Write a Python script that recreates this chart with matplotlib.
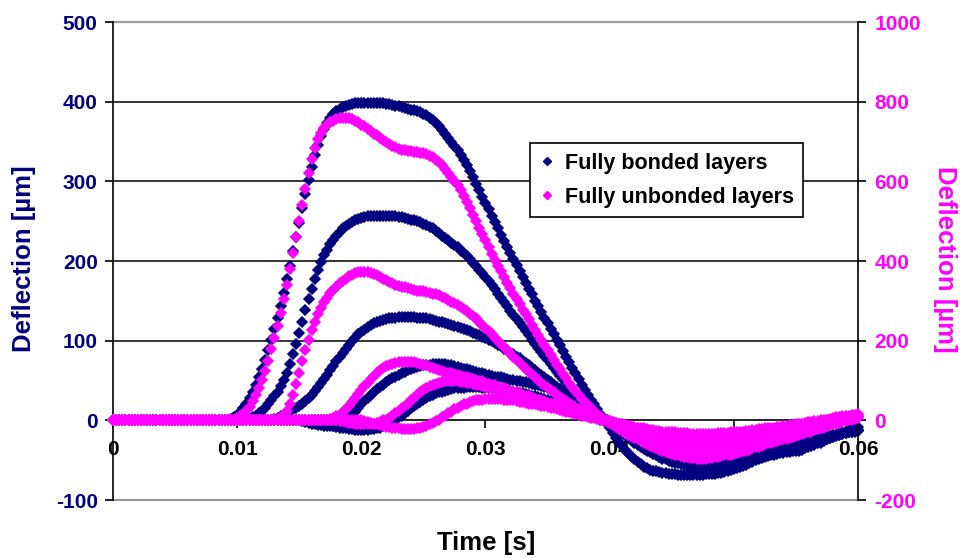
import matplotlib.pyplot as plt
import numpy as np
from matplotlib.lines import Line2D

plt.rcParams['font.family'] = ['Liberation Sans', 'DejaVu Sans']
plt.rcParams['font.weight'] = 'bold'
plt.rcParams['axes.unicode_minus'] = False

# time axis: one sample every 0.25 ms, 0 .. 0.06 s
t = np.linspace(0, 0.06, 241)

# Fully bonded layers, deflection in um (left axis), 5 depths, 20 samples per row (5 ms)
bonded_1 = [
    0, 0, 0, 0, 0, 0, 0, 0, 0, 0, 0, 0, 0, 0, 0, 0, 0, 0, 0, 0,
    0, 0, 0, 0, 0, 0, 0, 0, 0, 0, 0, 0, 0, 0, 0, 0, 0, 1, 2, 4,
    6, 10, 15, 21, 28, 36, 45, 55, 65, 76, 88, 101, 115, 129, 144, 160, 177, 194, 212, 230,
    248, 266, 284, 302, 318, 333, 346, 357, 366, 373, 379, 384, 388, 391, 393, 395, 396, 397, 398, 398,
    399, 399, 399, 399, 399, 398, 398, 398, 397, 397, 396, 395, 394, 393, 392, 391, 390, 389, 388, 387,
    385, 383, 380, 377, 373, 369, 365, 360, 355, 350, 345, 339, 333, 327, 320, 313, 305, 297, 289, 281,
    273, 265, 257, 249, 241, 233, 225, 218, 210, 203, 195, 188, 180, 173, 165, 158, 150, 143, 136, 129,
    122, 115, 108, 101, 94, 87, 80, 73, 66, 59, 52, 45, 38, 32, 26, 20, 14, 8, 2, -4,
    -10, -16, -22, -27, -32, -37, -41, -45, -49, -52, -55, -58, -60, -62, -63, -64, -65, -66, -66, -67,
    -67, -67, -68, -68, -68, -68, -68, -68, -68, -68, -68, -67, -67, -67, -67, -66, -66, -65, -64, -62,
    -61, -60, -58, -57, -56, -54, -52, -50, -49, -47, -46, -45, -44, -43, -42, -41, -41, -40, -40, -39,
    -39, -38, -37, -35, -34, -32, -31, -29, -28, -26, -24, -22, -21, -19, -17, -15, -14, -12, -11, -9,
    -8]
bonded_2 = [
    0, 0, 0, 0, 0, 0, 0, 0, 0, 0, 0, 0, 0, 0, 0, 0, 0, 0, 0, 0,
    0, 0, 0, 0, 0, 0, 0, 0, 0, 0, 0, 0, 0, 0, 0, 0, 0, 0, 0, 0,
    0, 0, 0, 1, 2, 4, 6, 9, 12, 16, 20, 25, 30, 36, 43, 51, 60, 71, 83, 96,
    110, 124, 138, 152, 165, 177, 189, 199, 207, 214, 221, 227, 232, 237, 241, 244, 247, 249, 251, 253,
    254, 255, 256, 256, 257, 257, 257, 257, 257, 257, 256, 256, 255, 255, 254, 253, 252, 251, 250, 249,
    247, 245, 243, 241, 238, 235, 232, 229, 226, 223, 220, 217, 213, 210, 206, 202, 198, 194, 189, 185,
    180, 175, 170, 165, 159, 154, 148, 143, 137, 132, 127, 122, 117, 112, 107, 101, 96, 91, 86, 81,
    76, 71, 66, 61, 56, 52, 47, 43, 38, 34, 30, 26, 22, 18, 15, 11, 8, 5, 2, -1,
    -4, -7, -10, -13, -16, -19, -22, -25, -28, -31, -33, -36, -38, -40, -42, -44, -46, -48, -49, -51,
    -52, -53, -54, -55, -56, -56, -57, -57, -58, -58, -58, -58, -58, -58, -57, -57, -56, -55, -54, -53,
    -52, -51, -50, -49, -48, -47, -46, -45, -44, -43, -42, -42, -41, -40, -40, -39, -38, -37, -37, -36,
    -35, -34, -33, -32, -31, -30, -28, -27, -26, -25, -23, -22, -21, -20, -18, -17, -16, -15, -14, -13,
    -12]
bonded_3 = [
    0, 0, 0, 0, 0, 0, 0, 0, 0, 0, 0, 0, 0, 0, 0, 0, 0, 0, 0, 0,
    0, 0, 0, 0, 0, 0, 0, 0, 0, 0, 0, 0, 0, 0, 0, 0, 0, 0, 0, 0,
    0, 0, 0, 0, 0, 0, 0, 0, 0, 0, 0, 1, 2, 3, 5, 7, 9, 11, 14, 16,
    18, 21, 24, 28, 32, 37, 42, 47, 52, 57, 63, 68, 74, 79, 85, 90, 95, 100, 104, 108,
    111, 114, 117, 120, 122, 124, 125, 126, 127, 128, 129, 129, 130, 130, 130, 130, 130, 130, 129, 129,
    128, 128, 127, 126, 125, 124, 123, 122, 121, 120, 119, 117, 116, 115, 113, 112, 110, 108, 107, 105,
    103, 101, 99, 97, 95, 93, 90, 88, 85, 83, 80, 78, 75, 72, 69, 66, 63, 60, 57, 54,
    51, 48, 45, 42, 39, 36, 33, 30, 27, 25, 22, 20, 17, 15, 12, 10, 7, 5, 3, 0,
    -2, -4, -7, -9, -11, -13, -16, -18, -20, -22, -24, -26, -28, -30, -32, -33, -35, -37, -38, -40,
    -41, -42, -44, -45, -46, -47, -47, -48, -49, -49, -50, -50, -51, -51, -51, -50, -50, -50, -49, -49,
    -48, -47, -47, -46, -45, -44, -43, -42, -41, -40, -40, -39, -38, -37, -37, -36, -35, -34, -34, -33,
    -32, -31, -30, -29, -28, -27, -26, -25, -24, -23, -22, -21, -20, -19, -18, -17, -16, -15, -14, -14,
    -13]
bonded_4 = [
    0, 0, 0, 0, 0, 0, 0, 0, 0, 0, 0, 0, 0, 0, 0, 0, 0, 0, 0, 0,
    0, 0, 0, 0, 0, 0, 0, 0, 0, 0, 0, 0, 0, 0, 0, 0, 0, 0, 0, 0,
    0, 0, 0, 0, 0, 0, 0, 0, 0, 0, 0, 0, 0, 0, 0, 0, 0, 0, 0, 0,
    0, -1, -2, -3, -4, -5, -6, -6, -7, -7, -7, -7, -6, -5, -3, 0, 3, 7, 11, 15,
    20, 24, 28, 32, 35, 39, 42, 45, 48, 51, 53, 55, 57, 59, 61, 63, 64, 66, 67, 68,
    69, 70, 70, 71, 71, 71, 71, 71, 70, 69, 68, 67, 66, 65, 64, 63, 62, 61, 60, 59,
    58, 57, 56, 55, 54, 54, 53, 52, 51, 51, 50, 49, 48, 48, 47, 46, 45, 44, 43, 42,
    40, 39, 37, 36, 34, 32, 30, 28, 26, 24, 21, 19, 17, 14, 12, 9, 7, 5, 3, 0,
    -2, -4, -6, -8, -10, -12, -14, -16, -18, -20, -22, -24, -26, -28, -29, -31, -33, -34, -36, -37,
    -39, -40, -41, -42, -43, -44, -44, -45, -46, -46, -46, -47, -47, -47, -47, -47, -47, -46, -46, -45,
    -45, -44, -43, -43, -42, -41, -40, -40, -39, -38, -37, -37, -36, -35, -34, -34, -33, -32, -31, -31,
    -30, -29, -28, -28, -27, -26, -25, -24, -23, -22, -21, -20, -19, -18, -17, -16, -15, -14, -13, -13,
    -12]
bonded_5 = [
    0, 0, 0, 0, 0, 0, 0, 0, 0, 0, 0, 0, 0, 0, 0, 0, 0, 0, 0, 0,
    0, 0, 0, 0, 0, 0, 0, 0, 0, 0, 0, 0, 0, 0, 0, 0, 0, 0, 0, 0,
    0, 0, 0, 0, 0, 0, 0, 0, 0, 0, 0, 0, 0, 0, 0, 0, 0, 0, 0, 0,
    0, 0, 0, 0, 0, 0, 0, 0, -3, -4, -6, -7, -8, -9, -10, -10, -11, -11, -12, -12,
    -12, -12, -12, -11, -11, -10, -9, -7, -5, -3, -1, 1, 4, 6, 9, 12, 15, 18, 21, 23,
    26, 28, 30, 32, 34, 35, 36, 37, 38, 39, 40, 40, 41, 41, 42, 42, 42, 42, 42, 41,
    41, 41, 40, 40, 39, 39, 38, 37, 37, 36, 35, 34, 34, 33, 32, 31, 30, 29, 28, 27,
    26, 24, 23, 22, 21, 19, 18, 16, 15, 13, 12, 10, 9, 7, 6, 4, 3, 1, 0, -2,
    -3, -5, -6, -8, -9, -11, -13, -14, -16, -18, -19, -21, -23, -24, -26, -27, -29, -30, -31, -33,
    -34, -35, -36, -37, -38, -39, -39, -40, -41, -41, -41, -42, -42, -42, -42, -42, -42, -42, -41, -41,
    -41, -40, -40, -39, -39, -38, -38, -37, -37, -36, -35, -35, -34, -33, -33, -32, -31, -30, -30, -29,
    -28, -27, -27, -26, -25, -24, -24, -23, -22, -21, -21, -20, -19, -18, -17, -16, -15, -14, -13, -13,
    -12]

# Fully unbonded layers, deflection in um (right axis)
unbonded_1 = [
    0, 0, 0, 0, 0, 0, 0, 0, 0, 0, 0, 0, 0, 0, 0, 0, 0, 0, 0, 0,
    0, 0, 0, 0, 0, 0, 0, 0, 0, 0, 0, 0, 0, 0, 0, 0, 0, 0, 0, 2,
    6, 10, 16, 24, 34, 48, 64, 82, 102, 124, 150, 178, 208, 238, 270, 304, 340, 380, 420, 460,
    500, 540, 580, 620, 656, 684, 706, 722, 734, 742, 748, 752, 756, 758, 760, 760, 758, 756, 752, 748,
    742, 738, 732, 726, 720, 716, 710, 704, 700, 694, 690, 686, 682, 680, 678, 676, 676, 674, 674, 672,
    670, 668, 664, 660, 654, 648, 640, 632, 622, 612, 602, 590, 578, 564, 548, 532, 516, 500, 484, 468,
    452, 436, 418, 402, 388, 374, 360, 346, 332, 318, 304, 292, 278, 266, 254, 240, 228, 214, 202, 188,
    176, 164, 152, 140, 128, 116, 106, 94, 84, 74, 64, 54, 46, 38, 30, 22, 16, 10, 4, 0,
    -6, -12, -16, -22, -26, -32, -36, -40, -44, -48, -52, -56, -60, -64, -66, -70, -74, -76, -80, -82,
    -84, -86, -88, -90, -92, -92, -94, -94, -96, -96, -96, -96, -94, -94, -92, -92, -90, -88, -88, -86,
    -84, -82, -80, -78, -76, -74, -70, -68, -66, -64, -60, -58, -56, -54, -52, -50, -48, -46, -44, -42,
    -40, -38, -34, -32, -30, -28, -24, -22, -20, -18, -14, -12, -10, -8, -6, -4, -2, 0, 2, 4,
    6]
unbonded_2 = [
    0, 0, 0, 0, 0, 0, 0, 0, 0, 0, 0, 0, 0, 0, 0, 0, 0, 0, 0, 0,
    0, 0, 0, 0, 0, 0, 0, 0, 0, 0, 0, 0, 0, 0, 0, 0, 0, 0, 0, 0,
    0, 0, 0, 0, 0, 0, 0, 0, 0, 0, 0, 2, 2, 4, 8, 14, 24, 40, 64, 92,
    120, 148, 176, 202, 226, 248, 266, 282, 296, 308, 320, 328, 336, 344, 350, 356, 362, 366, 370, 372,
    372, 372, 372, 370, 368, 364, 360, 356, 352, 348, 344, 340, 338, 336, 334, 332, 330, 328, 326, 326,
    324, 322, 320, 318, 316, 314, 310, 306, 302, 298, 294, 290, 284, 280, 274, 268, 262, 256, 248, 240,
    232, 224, 216, 208, 200, 192, 184, 176, 168, 160, 152, 144, 136, 130, 122, 116, 108, 102, 94, 88,
    82, 76, 70, 64, 58, 54, 48, 44, 38, 34, 28, 24, 20, 16, 12, 10, 6, 4, 0, -4,
    -6, -10, -14, -16, -20, -24, -28, -30, -34, -38, -40, -44, -46, -48, -52, -54, -56, -58, -62, -64,
    -66, -68, -68, -70, -72, -74, -74, -76, -76, -76, -76, -76, -76, -76, -74, -74, -72, -70, -70, -68,
    -66, -64, -62, -60, -58, -56, -54, -52, -50, -48, -46, -44, -42, -40, -38, -36, -34, -32, -30, -28,
    -26, -24, -22, -20, -18, -16, -14, -12, -10, -8, -6, -6, -4, -2, 0, 0, 2, 4, 6, 6,
    8]
unbonded_3 = [
    0, 0, 0, 0, 0, 0, 0, 0, 0, 0, 0, 0, 0, 0, 0, 0, 0, 0, 0, 0,
    0, 0, 0, 0, 0, 0, 0, 0, 0, 0, 0, 0, 0, 0, 0, 0, 0, 0, 0, 0,
    0, 0, 0, 0, 0, 0, 0, 0, 0, 0, 0, 0, 0, 0, 0, 0, 0, 0, 0, 0,
    0, 0, 0, 0, 0, 0, 0, 0, 0, 2, 4, 6, 10, 14, 20, 28, 36, 46, 56, 66,
    76, 86, 94, 104, 112, 120, 126, 132, 136, 140, 142, 144, 146, 146, 146, 146, 146, 146, 144, 142,
    140, 138, 134, 132, 128, 126, 124, 122, 120, 118, 116, 114, 112, 110, 108, 106, 104, 102, 100, 98,
    94, 92, 90, 88, 84, 82, 80, 78, 74, 72, 70, 68, 64, 62, 60, 58, 54, 52, 50, 48,
    44, 42, 40, 38, 34, 32, 30, 28, 24, 22, 20, 18, 14, 12, 10, 8, 6, 4, 2, 0,
    -2, -4, -8, -10, -12, -14, -18, -20, -22, -24, -28, -30, -32, -34, -36, -38, -40, -42, -44, -46,
    -48, -50, -50, -52, -54, -54, -56, -56, -58, -58, -58, -60, -60, -60, -58, -58, -58, -56, -56, -54,
    -54, -52, -50, -50, -48, -46, -44, -44, -42, -40, -38, -36, -34, -32, -30, -30, -28, -26, -24, -22,
    -20, -18, -16, -16, -14, -12, -10, -8, -8, -6, -4, -4, -2, 0, 0, 2, 4, 6, 6, 8,
    10]
unbonded_4 = [
    0, 0, 0, 0, 0, 0, 0, 0, 0, 0, 0, 0, 0, 0, 0, 0, 0, 0, 0, 0,
    0, 0, 0, 0, 0, 0, 0, 0, 0, 0, 0, 0, 0, 0, 0, 0, 0, 0, 0, 0,
    0, 0, 0, 0, 0, 0, 0, 0, 0, 0, 0, 0, 0, 0, 0, 0, 0, 0, 0, 0,
    0, 0, 0, 0, 0, 0, 0, 0, 0, 0, 0, 0, 0, -2, -2, -4, -6, -6, -8, -8,
    -10, -10, -10, -10, -8, -6, -4, 0, 2, 6, 12, 18, 24, 30, 36, 42, 50, 56, 64, 70,
    76, 80, 86, 90, 92, 94, 96, 98, 98, 98, 98, 98, 96, 96, 94, 94, 92, 90, 88, 86,
    84, 82, 80, 78, 76, 74, 72, 70, 68, 66, 64, 62, 60, 58, 56, 54, 52, 50, 48, 46,
    44, 42, 40, 36, 34, 32, 30, 26, 24, 22, 20, 16, 14, 12, 10, 8, 6, 4, 2, 0,
    -2, -4, -6, -8, -10, -12, -14, -16, -18, -20, -22, -24, -26, -28, -28, -30, -32, -34, -34, -36,
    -38, -38, -40, -40, -42, -42, -42, -44, -44, -44, -44, -44, -44, -44, -44, -42, -42, -42, -40, -40,
    -40, -38, -38, -36, -36, -34, -32, -32, -30, -28, -28, -26, -24, -22, -22, -20, -20, -18, -16, -16,
    -14, -12, -10, -10, -8, -6, -6, -4, -4, -2, 0, 0, 2, 4, 4, 6, 8, 8, 10, 10,
    12]
unbonded_5 = [
    0, 0, 0, 0, 0, 0, 0, 0, 0, 0, 0, 0, 0, 0, 0, 0, 0, 0, 0, 0,
    0, 0, 0, 0, 0, 0, 0, 0, 0, 0, 0, 0, 0, 0, 0, 0, 0, 0, 0, 0,
    0, 0, 0, 0, 0, 0, 0, 0, 0, 0, 0, 0, 0, 0, 0, 0, 0, 0, 0, 0,
    0, 0, 0, 0, 0, 0, 0, 0, 0, 0, 0, 0, 0, 0, 0, 0, 0, 0, 0, 0,
    0, -2, -4, -6, -8, -10, -12, -14, -16, -16, -18, -20, -20, -22, -22, -22, -22, -22, -20, -18,
    -16, -14, -10, -6, -2, 2, 8, 12, 18, 22, 28, 32, 36, 40, 42, 46, 48, 50, 52, 52,
    54, 54, 54, 54, 54, 54, 52, 52, 50, 50, 48, 46, 46, 44, 42, 42, 40, 38, 36, 36,
    34, 32, 30, 28, 26, 24, 22, 20, 18, 16, 14, 12, 10, 8, 6, 6, 4, 2, 0, -2,
    -4, -6, -6, -8, -10, -12, -14, -14, -16, -18, -20, -20, -22, -24, -24, -26, -26, -28, -28, -30,
    -30, -30, -32, -32, -32, -32, -34, -34, -34, -34, -34, -34, -34, -34, -34, -32, -32, -32, -32, -30,
    -30, -30, -28, -28, -26, -26, -24, -24, -22, -22, -20, -20, -18, -18, -16, -16, -14, -14, -12, -12,
    -10, -8, -8, -6, -4, -4, -2, -2, 0, 2, 2, 4, 6, 8, 8, 10, 12, 12, 14, 14,
    16]

bonded = [bonded_1, bonded_2, bonded_3, bonded_4, bonded_5]
unbonded = [unbonded_1, unbonded_2, unbonded_3, unbonded_4, unbonded_5]

x_ticks = [0, 0.01, 0.02, 0.03, 0.04, 0.05, 0.06]
x_labels = ['0', '0.01', '0.02', '0.03', '0.04', '0.05', '0.06']
left_ticks = [-100, 0, 100, 200, 300, 400, 500]
right_ticks = [-200, 0, 200, 400, 600, 800, 1000]

navy = '#000080'
pink = '#FF00FF'

fig = plt.figure(figsize=(9.6, 5.58), dpi=100)
ax = fig.add_axes([0.1177, 0.1039, 0.7760, 0.8566])
ax2 = ax.twinx()

ax.set_xlim(0, 0.06)
ax.set_ylim(-100, 500)
ax2.set_ylim(-200, 1000)

# excel-ish frame: x axis crosses at 0
ax.spines['top'].set_visible(False)
ax.spines['right'].set_visible(False)
ax.spines['bottom'].set_position(('data', 0))
for sp in ['top', 'bottom', 'left']:
    ax2.spines[sp].set_visible(False)
ax.spines['left'].set_linewidth(1.2)
ax.spines['bottom'].set_linewidth(1.2)
ax2.spines['right'].set_linewidth(1.2)

for yy in [100, 200, 300, 400]:
    ax.axhline(yy, color='black', lw=1.1, zorder=0.5)
for yy in [500, -100]:
    ax.axhline(yy, color='#999999', lw=1.6, zorder=0.5, clip_on=False)

for s in bonded:
    ax.plot(t, s, ls='none', marker='D', ms=4.8, color=navy, mec=navy, mew=1.1,
            clip_on=False, zorder=3)
for s in unbonded:
    ax2.plot(t, s, ls='none', marker='D', ms=4.8, color=pink, mec=pink, mew=1.1,
             clip_on=False, zorder=3)

ax.set_xticks(x_ticks)
ax.set_xticklabels(x_labels)
ax.set_yticks(left_ticks)
ax2.set_yticks(right_ticks)
ax.tick_params(axis='x', direction='out', length=6, width=1.2, labelsize=15, pad=8)
ax.tick_params(axis='y', direction='out', length=6, width=1.2, labelsize=15,
               labelcolor=navy, pad=5)
ax2.tick_params(axis='y', direction='out', length=6, width=1.2, labelsize=15,
                labelcolor=pink, pad=6)

fig.text(24/960, 1-259/558, 'Deflection [µm]', rotation=90, color=navy,
         fontsize=18.5, ha='center', va='center')
fig.text(945/960, 1-259/558, 'Deflection [µm]', rotation=-90, color=pink,
         fontsize=18.5, ha='center', va='center')
fig.text(486/960, 1-543/558, 'Time [s]', color='black', fontsize=18.5,
         ha='center', va='center')

handles = [Line2D([], [], ls='none', marker='D', ms=4, color=navy),
           Line2D([], [], ls='none', marker='D', ms=4, color=pink)]
leg = ax2.legend(handles, ['Fully bonded layers', 'Fully unbonded layers'],
                 loc='upper left', bbox_to_anchor=(0.56, 0.747), borderaxespad=0,
                 frameon=True, fancybox=False, framealpha=1, edgecolor='black',
                 fontsize=15.5, handlelength=0.7, handletextpad=0.45,
                 borderpad=0.45, labelspacing=0.6)
leg.get_frame().set_linewidth(1.2)
leg.set_zorder(10)

fig.savefig('out.png', dpi=100)
